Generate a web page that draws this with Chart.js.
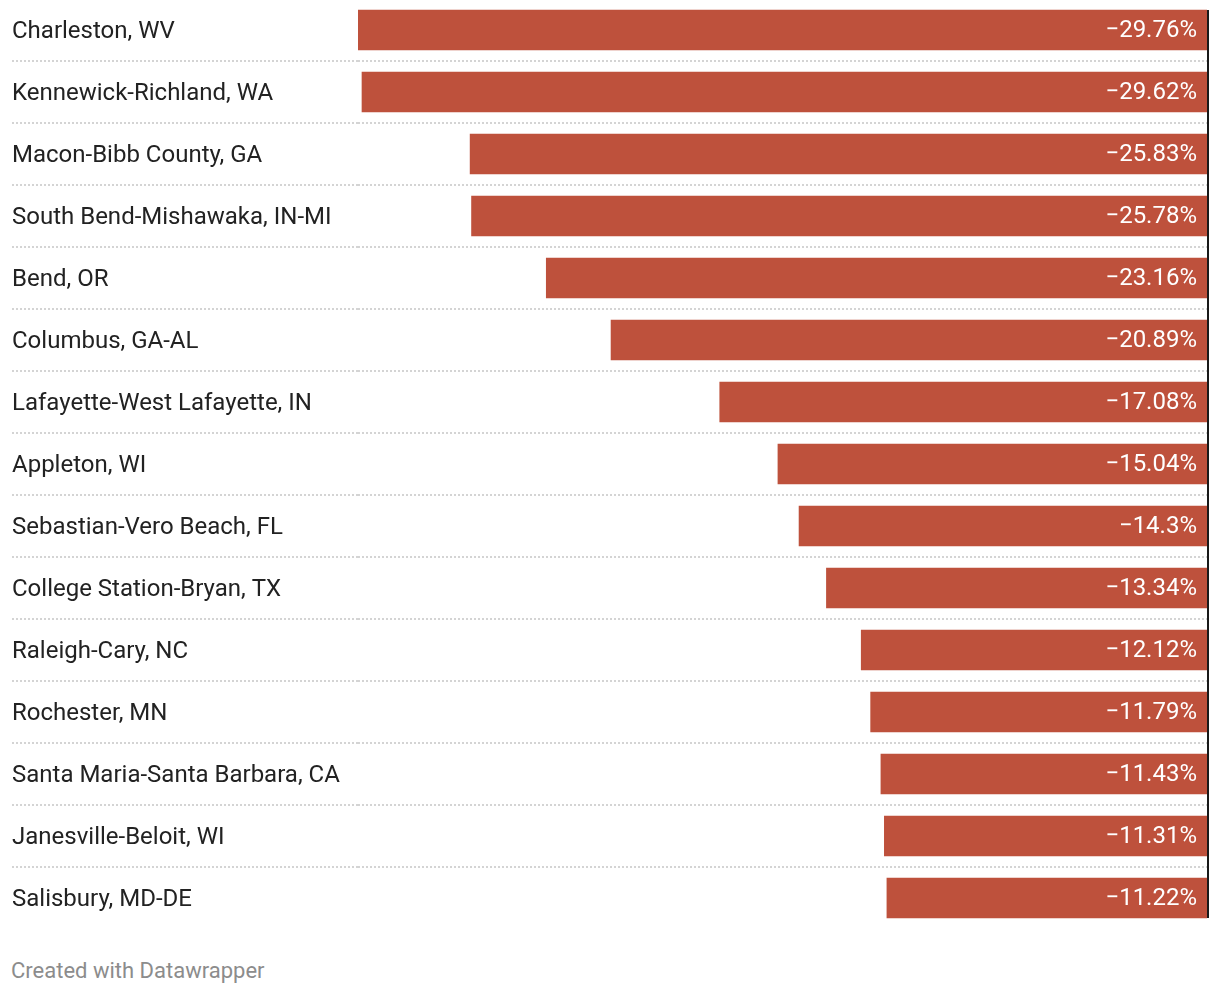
<!DOCTYPE html>
<html>
<head>
<meta charset="utf-8">
<script src="https://cdn.jsdelivr.net/npm/chart.js@4"></script>
<style>
  html, body { margin: 0; padding: 0; background: #fff; }
  body { width: 1220px; height: 994px; position: relative; overflow: hidden; }
  #wrap { position: absolute; left: 0; top: -1px; width: 1220px; height: 930px; }
  #footer {
    position: absolute; left: 11px; top: 960px;
    font-family: Roboto, sans-serif; font-size: 22px; line-height: 1;
    color: #8c8c8c;
  }
</style>
</head>
<body>
<div id="wrap"><canvas id="declineChart"></canvas></div>
<div id="footer">Created with Datawrapper</div>
<script>
const metros = [
  "Charleston, WV",
  "Kennewick-Richland, WA",
  "Macon-Bibb County, GA",
  "South Bend-Mishawaka, IN-MI",
  "Bend, OR",
  "Columbus, GA-AL",
  "Lafayette-West Lafayette, IN",
  "Appleton, WI",
  "Sebastian-Vero Beach, FL",
  "College Station-Bryan, TX",
  "Raleigh-Cary, NC",
  "Rochester, MN",
  "Santa Maria-Santa Barbara, CA",
  "Janesville-Beloit, WI",
  "Salisbury, MD-DE",
];
const changes = [
  -29.76, -29.62, -25.83, -25.78, -23.16, -20.89, -17.08, -15.04,
  -14.3, -13.34, -12.12, -11.79, -11.43, -11.31, -11.22,
];

const BAR_COLOR = "#be513c";
const GRID_COLOR = "#d4d4d4";

// white value text inside each bar, right aligned near the zero line
const valueLabels = {
  id: "valueLabels",
  afterDatasetsDraw(chart) {
    const ctx = chart.ctx;
    const meta = chart.getDatasetMeta(0);
    ctx.save();
    ctx.font = "24px Roboto";
    ctx.fillStyle = "#ffffff";
    ctx.textAlign = "right";
    ctx.textBaseline = "middle";
    meta.data.forEach((bar, i) => {
      const v = changes[i];
      const txt = (v < 0 ? "\u2212" : "") + Math.abs(v) + "%";
      ctx.fillText(txt, bar.base - 10, bar.y + 1);
    });
    ctx.restore();
  },
};

// black baseline at zero, spanning first bar top to last bar bottom
const zeroLine = {
  id: "zeroLine",
  afterDatasetsDraw(chart) {
    const meta = chart.getDatasetMeta(0);
    const first = meta.data[0];
    const last = meta.data[meta.data.length - 1];
    const x = chart.scales.x.getPixelForValue(0);
    const ctx = chart.ctx;
    ctx.save();
    ctx.strokeStyle = "#1a1a1a";
    ctx.lineWidth = 2;
    ctx.beginPath();
    ctx.moveTo(x + 1, first.y - first.height / 2);
    ctx.lineTo(x + 1, last.y + last.height / 2);
    ctx.stroke();
    ctx.restore();
  },
};

function sepColor(c) {
  return c.index > 0 && c.index < metros.length ? GRID_COLOR : "transparent";
}

const declineChart = new Chart(document.getElementById("declineChart"), {
  type: "bar",
  data: {
    labels: metros,
    datasets: [
      {
        data: changes,
        backgroundColor: BAR_COLOR,
        borderWidth: 0,
        barThickness: 40,
      },
    ],
  },
  options: {
    indexAxis: "y",
    responsive: true,
    maintainAspectRatio: false,
    animation: false,
    layout: { padding: { left: 12, right: 13, top: 0, bottom: 0 } },
    plugins: {
      legend: { display: false },
      tooltip: { enabled: false },
    },
    scales: {
      x: {
        display: false,
        min: -29.76,
        max: 0,
      },
      y: {
        position: "left",
        border: { display: false, dash: [2, 2] },
        grid: {
          offset: true,
          color: sepColor,
          tickColor: sepColor,
          lineWidth: 2,
          tickWidth: 2,
          tickLength: 346,
          tickBorderDash: [2, 2],
        },
        ticks: {
          crossAlign: "far",
          padding: 0,
          color: "#222222",
          font: { family: "Roboto", size: 24, lineHeight: 0.17 },
          // empty first line nudges the label ~2px down to sit centred on the bar
          callback: (value, i) => ["", metros[i]],
        },
        afterFit(scale) {
          scale.width = 346;
          scale.paddingTop = 0;
          scale.paddingBottom = 0;
        },
      },
    },
  },
  plugins: [valueLabels, zeroLine],
});
</script>
</body>
</html>
